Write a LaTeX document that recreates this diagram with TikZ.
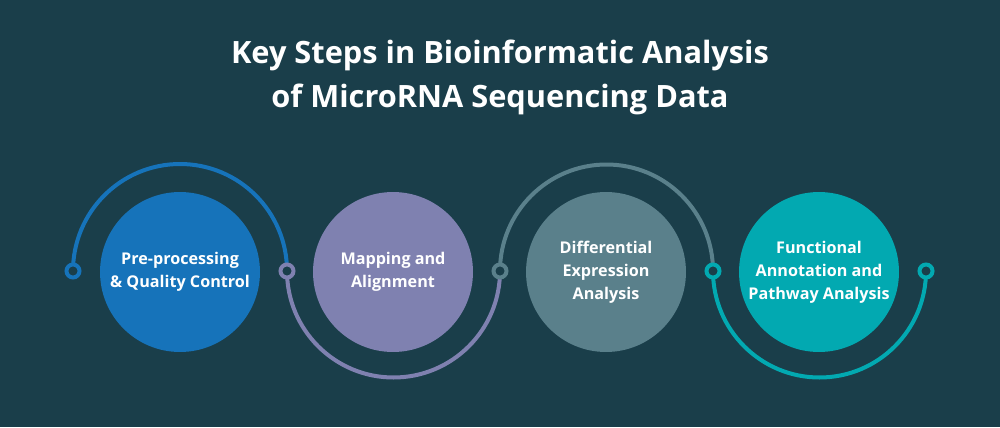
\documentclass[tikz,border=0pt]{standalone}
\usepackage{fontspec}
\setmainfont{Open Sans}
\definecolor{bgcol}{HTML}{1A3E4A}
\definecolor{stepblue}{HTML}{1673BA}
\definecolor{steppurple}{HTML}{7F81B0}
\definecolor{stepgray}{HTML}{5A808B}
\definecolor{stepteal}{HTML}{02A9B1}
\tikzset{
    stepcircle/.style={circle, fill=#1, minimum size=3.2cm, inner sep=0pt,
        text=white, align=center, font=\bfseries\fontsize{9.2}{13}\selectfont},
    marker/.style={circle, draw=#1, line width=0.08cm, fill=bgcol,
        minimum size=0.26cm, inner sep=0pt},
    pathline/.style={#1, line width=0.08cm}
}
\begin{document}
\begin{tikzpicture}[x=0.02cm, y=0.02cm]
    % Background
    \fill[bgcol] (0,0) rectangle (1000,427);
    \useasboundingbox (0,0) rectangle (1000,427);

    % Title
    \node[text=white, align=center, font=\bfseries\fontsize{17.5}{25}\selectfont] (title) at (500,350)
        {Key Steps in Bioinformatic Analysis\\of MicroRNA Sequencing Data};

    % Step circles
    \node[stepcircle=stepblue] (s1) at (180,155) {Pre-processing\\\& Quality Control};
    \node[stepcircle=steppurple] (s2) at (393,155) {Mapping and\\Alignment};
    \node[stepcircle=stepgray] (s3) at (606,155) {Differential\\Expression\\Analysis};
    \node[stepcircle=stepteal] (s4) at (819,155) {Functional\\Annotation and\\Pathway Analysis};

    % Arc ends
    \coordinate (p1) at (73,156);
    \coordinate (p2) at (287,156);
    \coordinate (p3) at (500,156);
    \coordinate (p4) at (713,156);
    \coordinate (p5) at (926,156);

    % Arcs around the circles
    \draw[pathline=stepblue] (p1) arc[start angle=180, end angle=0, radius=107];
    \draw[pathline=steppurple] (p2) arc[start angle=180, end angle=360, radius=106.5];
    \draw[pathline=stepgray] (p3) arc[start angle=180, end angle=0, radius=106.5];
    \draw[pathline=stepteal] (p4) arc[start angle=180, end angle=360, radius=106.5];

    % Markers
    \node[marker=stepblue] (m1) at (p1) {};
    \node[marker=steppurple] (m2) at (p2) {};
    \node[marker=stepgray] (m3) at (p3) {};
    \node[marker=stepteal] (m4) at (p4) {};
    \node[marker=stepteal] (m5) at (p5) {};
\end{tikzpicture}
\end{document}
